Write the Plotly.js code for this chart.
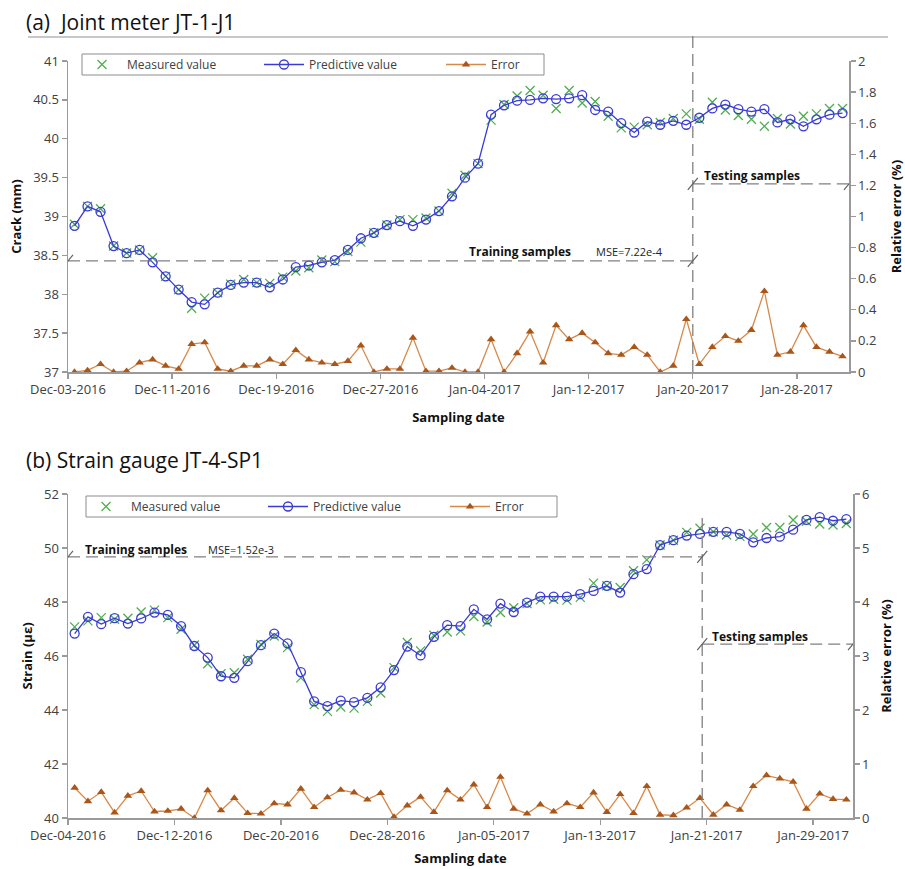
<!DOCTYPE html>
<html>
<head>
<meta charset="utf-8">
<script src="https://cdn.plot.ly/plotly-3.0.1.min.js"></script>
<style>html,body{margin:0;padding:0;background:#fff;}#chart{width:905px;height:869px;}</style>
</head>
<body>
<div id="chart"></div>
<script>
// ---------- DATA ----------
var dates_a = ['2016-12-03','2016-12-04','2016-12-05','2016-12-06','2016-12-07','2016-12-08','2016-12-09','2016-12-10','2016-12-11','2016-12-12',
'2016-12-13','2016-12-14','2016-12-15','2016-12-16','2016-12-17','2016-12-18','2016-12-19','2016-12-20','2016-12-21','2016-12-22',
'2016-12-23','2016-12-24','2016-12-25','2016-12-26','2016-12-27','2016-12-28','2016-12-29','2016-12-30','2016-12-31','2017-01-01',
'2017-01-02','2017-01-03','2017-01-04','2017-01-05','2017-01-06','2017-01-07','2017-01-08','2017-01-09','2017-01-10','2017-01-11',
'2017-01-12','2017-01-13','2017-01-14','2017-01-15','2017-01-16','2017-01-17','2017-01-18','2017-01-19','2017-01-20','2017-01-21',
'2017-01-22','2017-01-23','2017-01-24','2017-01-25','2017-01-26','2017-01-27','2017-01-28','2017-01-29','2017-01-30','2017-01-31'];
var crack_measured = [38.90,39.13,39.10,38.62,38.53,38.57,38.47,38.23,38.06,37.82,
37.95,38.02,38.13,38.19,38.15,38.14,38.22,38.30,38.34,38.44,
38.42,38.55,38.67,38.79,38.89,38.96,38.96,38.98,39.07,39.30,
39.53,39.68,40.24,40.44,40.55,40.62,40.56,40.39,40.62,40.46,
40.48,40.29,40.14,40.15,40.18,40.21,40.26,40.32,40.25,40.47,
40.37,40.30,40.25,40.16,40.26,40.19,40.29,40.32,40.39,40.39];
var crack_predicted = [38.88,39.13,39.06,38.62,38.53,38.57,38.41,38.23,38.06,37.90,
37.87,38.02,38.12,38.15,38.15,38.09,38.19,38.35,38.37,38.41,
38.44,38.57,38.72,38.79,38.89,38.94,38.88,38.96,39.07,39.26,
39.50,39.68,40.31,40.43,40.49,40.50,40.52,40.51,40.52,40.56,
40.37,40.35,40.20,40.08,40.22,40.18,40.23,40.18,40.27,40.39,
40.44,40.38,40.35,40.38,40.21,40.25,40.16,40.25,40.31,40.33];
var crack_error = [0.00,0.01,0.05,0.00,0.005,0.06,0.08,0.04,0.02,0.18,
0.19,0.02,0.005,0.04,0.04,0.08,0.05,0.14,0.08,0.06,
0.05,0.07,0.17,0.00,0.02,0.02,0.22,0.005,0.005,0.026,
0.00,0.00,0.21,0.00,0.12,0.26,0.06,0.30,0.21,0.25,
0.19,0.12,0.11,0.16,0.11,0.00,0.04,0.34,0.05,0.16,
0.23,0.20,0.27,0.52,0.11,0.13,0.30,0.16,0.13,0.10];

var dates_b = ['2016-12-04','2016-12-05','2016-12-06','2016-12-07','2016-12-08','2016-12-09','2016-12-10','2016-12-11','2016-12-12',
'2016-12-13','2016-12-14','2016-12-15','2016-12-16','2016-12-17','2016-12-18','2016-12-19','2016-12-20','2016-12-21','2016-12-22',
'2016-12-23','2016-12-24','2016-12-25','2016-12-26','2016-12-27','2016-12-28','2016-12-29','2016-12-30','2016-12-31','2017-01-01',
'2017-01-02','2017-01-03','2017-01-04','2017-01-05','2017-01-06','2017-01-07','2017-01-08','2017-01-09','2017-01-10','2017-01-11',
'2017-01-12','2017-01-13','2017-01-14','2017-01-15','2017-01-16','2017-01-17','2017-01-18','2017-01-19','2017-01-20','2017-01-21',
'2017-01-22','2017-01-23','2017-01-24','2017-01-25','2017-01-26','2017-01-27','2017-01-28','2017-01-29','2017-01-30','2017-01-31'];
var strain_measured = [47.08,47.30,47.42,47.36,47.40,47.63,47.70,47.42,46.99,46.41,
45.71,45.34,45.38,45.88,46.43,46.74,46.31,45.19,44.20,43.95,
44.11,44.07,44.32,44.63,45.57,46.50,46.19,46.77,46.89,46.93,
47.46,47.26,47.61,47.79,47.94,48.08,48.10,48.07,48.17,48.70,
48.60,48.54,49.16,49.56,50.11,50.29,50.58,50.73,50.60,50.48,
50.43,50.52,50.76,50.76,51.04,50.99,50.89,50.85,50.91];
var strain_predicted = [46.83,47.45,47.18,47.40,47.20,47.39,47.61,47.52,47.11,46.37,
45.94,45.25,45.19,45.81,46.40,46.83,46.47,45.40,44.32,44.14,
44.35,44.29,44.45,44.84,45.48,46.35,46.02,46.71,47.14,47.11,
47.73,47.36,47.94,47.63,47.98,48.20,48.20,48.20,48.29,48.41,
48.60,48.35,49.03,49.22,50.11,50.29,50.46,50.52,50.60,50.60,
50.52,50.21,50.37,50.42,50.68,51.04,51.14,51.01,51.07];
var strain_error = [0.56,0.31,0.48,0.10,0.41,0.50,0.12,0.13,0.17,0.00,
0.51,0.14,0.37,0.09,0.08,0.27,0.25,0.54,0.20,0.38,
0.52,0.47,0.34,0.46,0.02,0.23,0.39,0.11,0.51,0.34,
0.62,0.20,0.76,0.17,0.08,0.25,0.12,0.27,0.20,0.47,
0.11,0.44,0.09,0.59,0.06,0.05,0.19,0.37,0.06,0.25,
0.15,0.59,0.79,0.73,0.67,0.17,0.45,0.35,0.34];

var seriesNames = ['Measured value', 'Predictive value', 'Error'];

// ---------- STYLE ----------
var W = 905, H = 869;
var FONT = 'Open Sans, Noto Sans, sans-serif';
var GREEN = '#4fae4f', BLUE = '#3a3ad6', ORANGE = '#d7894a', BROWN = '#a9561b';
var AXC = '#9a9a9a', TXT = '#404040', DASH = '#808080';
var DAY = 86400000;
function px(x){return x/W;}
function py(y){return 1 - y/H;}

function traces(dates, meas, pred, err, xa, ya, ya2, leg) {
  var common = {x: dates, xperiod: DAY, xperiodalignment: 'middle', xaxis: xa, cliponaxis: false};
  return [
    Object.assign({}, common, {y: meas, yaxis: ya, name: seriesNames[0], mode: 'markers', legend: leg,
      marker: {symbol: 'x-thin', size: 9, line: {color: GREEN, width: 1.3}}}),
    Object.assign({}, common, {y: pred, yaxis: ya, name: seriesNames[1], mode: 'lines+markers', legend: leg,
      line: {color: BLUE, width: 1.3},
      marker: {symbol: 'circle-open', size: 9, color: BLUE, line: {width: 1.3}}}),
    Object.assign({}, common, {y: err, yaxis: ya2, name: seriesNames[2], mode: 'lines+markers', legend: leg,
      line: {color: ORANGE, width: 1.3},
      marker: {symbol: 'triangle-up', size: 7.5, color: BROWN}})
  ];
}

var data = [].concat(
  traces(dates_a, crack_measured, crack_predicted, crack_error, 'x', 'y', 'y2', 'legend'),
  traces(dates_b, strain_measured, strain_predicted, strain_error, 'x2', 'y3', 'y4', 'legend2')
);

function xAxis(domain, anchor, start, end, shift, standoff) {
  return {domain: domain, anchor: anchor, type: 'date', range: [start, end],
    tickmode: 'linear', tick0: start, dtick: 8*DAY, tickformat: '%b-%d-%Y',
    ticks: 'outside', ticklen: 5, tickcolor: AXC, tickwidth: 1.3,
    ticklabelshift: shift,
    showline: true, linecolor: AXC, linewidth: 1.5, showgrid: false, zeroline: false,
    tickfont: {family: FONT, size: 13, color: TXT},
    title: {text: '<b>Sampling date</b>', font: {family: FONT, size: 13, color: '#111'}, standoff: standoff}};
}
function yAxis(domain, anchor, range, dtick, title, standoff, side, overlay) {
  var a = {domain: domain, anchor: anchor, range: range, dtick: dtick, tick0: range[0], tickmode: 'linear',
    ticks: 'outside', ticklen: 5, tickcolor: AXC, tickwidth: 1.3,
    showline: true, linecolor: AXC, linewidth: 1.5, showgrid: false, zeroline: false,
    tickfont: {family: FONT, size: 13, color: TXT},
    title: {text: '<b>' + title + '</b>', font: {family: FONT, size: 13, color: '#111'}, standoff: standoff}};
  if (side) a.side = side;
  if (overlay) a.overlaying = overlay;
  return a;
}

var dTop = [py(372), py(61)], dBot = [py(818), py(494)];

function dashLine(x0, x1, y0, y1, xref, yref) {
  return {type: 'line', xref: xref, yref: yref, x0: x0, x1: x1, y0: y0, y1: y1,
    line: {color: DASH, width: 1.3, dash: '12px,6px'}};
}
function slash(x, y, xref, yref) {
  return {type: 'line', xref: xref, yref: yref, xsizemode: 'pixel', ysizemode: 'pixel',
    xanchor: x, yanchor: y, x0: -5, x1: 5, y0: -6, y1: 6, line: {color: '#606060', width: 1.2}};
}
function box(x0, x1, y0, y1) {
  return {type: 'rect', xref: 'paper', yref: 'paper', x0: px(x0), x1: px(x1), y0: py(y1), y1: py(y0),
    line: {color: '#8c8c8c', width: 1}, fillcolor: 'rgba(0,0,0,0)'};
}

var splitA = '2017-01-20', splitB = '2017-01-20 16:00';
var shapes = [
  {type: 'line', xref: 'paper', yref: 'paper', x0: px(28), x1: px(888), y0: py(37), y1: py(37), line: {color: '#c8c8c8', width: 2}},
  box(82, 544, 54, 75),
  box(86, 557, 496, 517),
  dashLine('2016-12-03', splitA, 38.43, 38.43, 'x', 'y'),
  dashLine(splitA, splitA, py(372), py(34), 'x', 'paper'),
  dashLine(splitA, '2017-02-01', 1.21, 1.21, 'x', 'y2'),
  slash('2016-12-03', 38.43, 'x', 'y'), slash(splitA, 38.43, 'x', 'y'),
  slash(splitA, 1.21, 'x', 'y2'), slash('2017-02-01', 1.21, 'x', 'y2'),
  dashLine('2016-12-04', splitB, 49.67, 49.67, 'x2', 'y3'),
  dashLine(splitB, splitB, 40, 51.33, 'x2', 'y3'),
  dashLine(splitB, '2017-02-01', 3.22, 3.22, 'x2', 'y4'),
  slash('2016-12-04', 49.67, 'x2', 'y3'), slash(splitB, 49.67, 'x2', 'y3'),
  slash(splitB, 3.22, 'x2', 'y4'), slash('2017-02-01', 3.22, 'x2', 'y4')
];

function note(text, x, y, anchor, size, color) {
  return {text: text, xref: 'paper', yref: 'paper', x: px(x), y: py(y), xanchor: anchor, yanchor: 'middle',
    showarrow: false, font: {family: FONT, size: size, color: color || '#111'}};
}
var annotations = [
  note('(a)&nbsp; Joint meter JT-1-J1', 24, 22, 'left', 21, '#111'),
  note('(b) Strain gauge JT-4-SP1', 24, 460, 'left', 21, '#111'),
  note('<b>Training samples</b>', 520, 251, 'center', 12),
  note('MSE=7.22e-4', 629, 251, 'center', 11, '#222'),
  note('<b>Testing samples</b>', 702, 175, 'left', 12),
  note('<b>Training samples</b>', 136, 549, 'center', 12),
  note('MSE=1.52e-3', 241, 549, 'center', 11, '#222'),
  note('<b>Testing samples</b>', 710, 636, 'left', 12)
];

function legendCfg(x, y) {
  return {x: px(x), y: py(y), xanchor: 'left', yanchor: 'top', orientation: 'h',
    borderwidth: 0, bgcolor: 'rgba(255,255,255,0)',
    font: {family: FONT, size: 12, color: TXT}, entrywidth: 127, itemwidth: 40, tracegroupgap: 0};
}

var layout = {
  width: W, height: H, margin: {l: 0, r: 0, t: 0, b: 0},
  paper_bgcolor: '#fff', plot_bgcolor: 'rgba(0,0,0,0)',
  font: {family: FONT, color: TXT},
  xaxis: xAxis([px(68), px(849)], 'y', '2016-12-03', '2017-02-01', 6.5, 16),
  yaxis: yAxis(dTop, 'x', [37, 41], 0.5, 'Crack (mm)', 8),
  yaxis2: yAxis(dTop, 'x', [0, 2], 0.2, 'Relative error (%)', 18, 'right', 'y'),
  xaxis2: xAxis([px(68), px(853)], 'y3', '2016-12-04', '2017-02-01', 6.6, 11),
  yaxis3: yAxis(dBot, 'x2', [40, 52], 2, 'Strain (με)', 8),
  yaxis4: yAxis(dBot, 'x2', [0, 6], 1, 'Relative error (%)', 13, 'right', 'y3'),
  legend: legendCfg(77, 50),
  legend2: legendCfg(81, 492),
  shapes: shapes,
  annotations: annotations,
  showlegend: true
};

Plotly.newPlot('chart', data, layout, {displayModeBar: false, staticPlot: true});
</script>
</body>
</html>
